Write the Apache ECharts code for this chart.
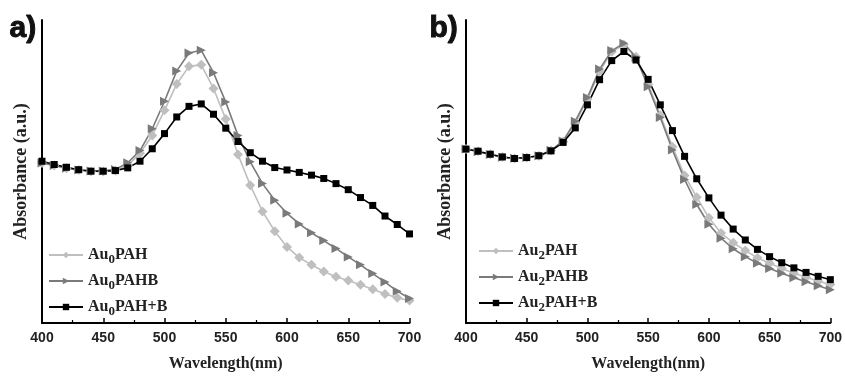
<!DOCTYPE html>
<html>
<head>
<meta charset="utf-8">
<script src="https://cdn.jsdelivr.net/npm/echarts@6/dist/echarts.min.js"></script>
<style>
html,body{margin:0;padding:0;background:#fff;}
#chart{width:845px;height:377px;}
</style>
</head>
<body>
<div id="chart"></div>
<script>
const wavelengths = [400,410,420,430,440,450,460,470,480,490,500,510,520,530,540,550,560,570,580,590,600,610,620,630,640,650,660,670,680,690,700];
const xTicks = [400,450,500,550,600,650,700];

// panel a)
const au0PAH = [0.528,0.520,0.511,0.505,0.500,0.500,0.503,0.520,0.560,0.619,0.702,0.789,0.847,0.852,0.774,0.673,0.556,0.455,0.368,0.303,0.251,0.216,0.192,0.170,0.153,0.140,0.126,0.111,0.096,0.083,0.074];
const au0PAHB = [0.528,0.520,0.511,0.505,0.502,0.502,0.507,0.529,0.569,0.641,0.732,0.832,0.891,0.900,0.826,0.729,0.619,0.532,0.460,0.405,0.362,0.327,0.298,0.272,0.246,0.218,0.192,0.163,0.135,0.105,0.081];
const au0PAHplusB = [0.534,0.523,0.514,0.506,0.501,0.501,0.503,0.512,0.534,0.575,0.625,0.680,0.715,0.723,0.689,0.643,0.599,0.562,0.534,0.513,0.505,0.497,0.488,0.477,0.460,0.440,0.414,0.388,0.353,0.325,0.294];

// panel b)
const au2PAH = [0.574,0.567,0.557,0.548,0.543,0.546,0.552,0.569,0.598,0.660,0.739,0.830,0.895,0.918,0.879,0.788,0.686,0.582,0.487,0.415,0.347,0.297,0.265,0.239,0.215,0.197,0.180,0.164,0.151,0.138,0.127];
const au2PAHB = [0.574,0.565,0.556,0.547,0.544,0.546,0.552,0.570,0.601,0.666,0.744,0.838,0.899,0.923,0.876,0.780,0.678,0.571,0.474,0.391,0.326,0.280,0.245,0.219,0.197,0.180,0.164,0.149,0.136,0.123,0.110];
const au2PAHplusB = [0.574,0.567,0.557,0.548,0.543,0.546,0.552,0.568,0.596,0.644,0.720,0.803,0.866,0.896,0.868,0.804,0.720,0.635,0.550,0.476,0.413,0.356,0.310,0.274,0.243,0.219,0.199,0.182,0.167,0.154,0.143];

const pairs = vals => wavelengths.map((w,i)=>[w, vals[i]]);

const COL_LIGHT = '#bfbfbf';
const COL_MID = '#7a7a7a';
const COL_DARK = '#000000';

function xAxisFor(gridIndex){
  return {
    type:'value', gridIndex, min:400, max:700, interval:50,
    name:'Wavelength(nm)', nameLocation:'middle', nameGap:33,
    nameTextStyle:{fontFamily:'Liberation Serif', fontWeight:'bold', fontSize:16, color:'#222'},
    axisLine:{show:true, onZero:false, lineStyle:{color:'#000', width:2}},
    axisTick:{show:true, inside:true, length:5, lineStyle:{color:'#000', width:1.5}},
    minorTick:{show:true, splitNumber:2, length:3, lineStyle:{color:'#000', width:1.2}},
    axisLabel:{fontFamily:'Liberation Sans', fontWeight:'bold', fontSize:14, color:'#222', margin:8,
      formatter: v => xTicks.includes(v) ? String(v) : ''},
    splitLine:{show:false}
  };
}
function yAxisFor(gridIndex){
  return {
    type:'value', gridIndex, min:0, max:1,
    name:'Absorbance (a.u.)', nameLocation:'middle', nameGap:12, nameRotate:90,
    nameTextStyle:{fontFamily:'Liberation Serif', fontWeight:'bold', fontSize:18, color:'#222'},
    axisLine:{show:true, lineStyle:{color:'#000', width:2}},
    axisTick:{show:false}, axisLabel:{show:false}, splitLine:{show:false}
  };
}
function ser(name, vals, gi, color, symbol, size, rotate){
  return {
    name, type:'line', xAxisIndex:gi, yAxisIndex:gi, data:pairs(vals),
    symbol, symbolSize:size, symbolRotate:rotate||0, showSymbol:true, smooth:false,
    lineStyle:{color, width:1.6}, itemStyle:{color, borderWidth:0}, animation:false
  };
}

const legendRich = {
  b:{fontFamily:'Liberation Serif', fontWeight:'bold', fontSize:16, color:'#222'},
  s:{fontFamily:'Liberation Serif', fontWeight:'bold', fontSize:13, color:'#222', padding:[9,0,0,0]}
};
function legendFmt(name){
  const m = name.match(/^Au(\d)(.*)$/);
  return '{b|Au}{s|' + m[1] + '}{b|' + m[2] + '}';
}

const option = {
  backgroundColor:'#fff',
  animation:false,
  grid:[
    {left:42, top:20, width:367.5, height:306},
    {left:466, top:20, width:366.7, height:306}
  ],
  xAxis:[xAxisFor(0), xAxisFor(1)],
  yAxis:[yAxisFor(0), yAxisFor(1)],
  legend:[
    {data:['Au0PAH','Au0PAHB','Au0PAH+B'], orient:'vertical', left:43, top:242, itemGap:7,
     itemWidth:34, itemHeight:8, formatter:legendFmt, textStyle:{rich:legendRich}},
    {data:['Au2PAH','Au2PAHB','Au2PAH+B'], orient:'vertical', left:473, top:238, itemGap:7,
     itemWidth:34, itemHeight:8, formatter:legendFmt, textStyle:{rich:legendRich}}
  ],
  graphic:[
    {type:'text', left:9, top:13, style:{text:'a)', fontFamily:'Liberation Sans', fontWeight:'bold', fontSize:30, fill:'#111', stroke:'#111', lineWidth:1}},
    {type:'text', left:429, top:13, style:{text:'b)', fontFamily:'Liberation Sans', fontWeight:'bold', fontSize:30, fill:'#111', stroke:'#111', lineWidth:1}}
  ],
  series:[
    ser('Au0PAH', au0PAH, 0, COL_LIGHT, 'diamond', 10),
    ser('Au0PAHB', au0PAHB, 0, COL_MID, 'triangle', 9, -90),
    ser('Au0PAH+B', au0PAHplusB, 0, COL_DARK, 'rect', 7),
    ser('Au2PAH', au2PAH, 1, COL_LIGHT, 'diamond', 10),
    ser('Au2PAHB', au2PAHB, 1, COL_MID, 'triangle', 9, -90),
    ser('Au2PAH+B', au2PAHplusB, 1, COL_DARK, 'rect', 7)
  ]
};
const chart = echarts.init(document.getElementById('chart'), null, {renderer:'canvas'});
chart.setOption(option);
</script>
</body>
</html>
